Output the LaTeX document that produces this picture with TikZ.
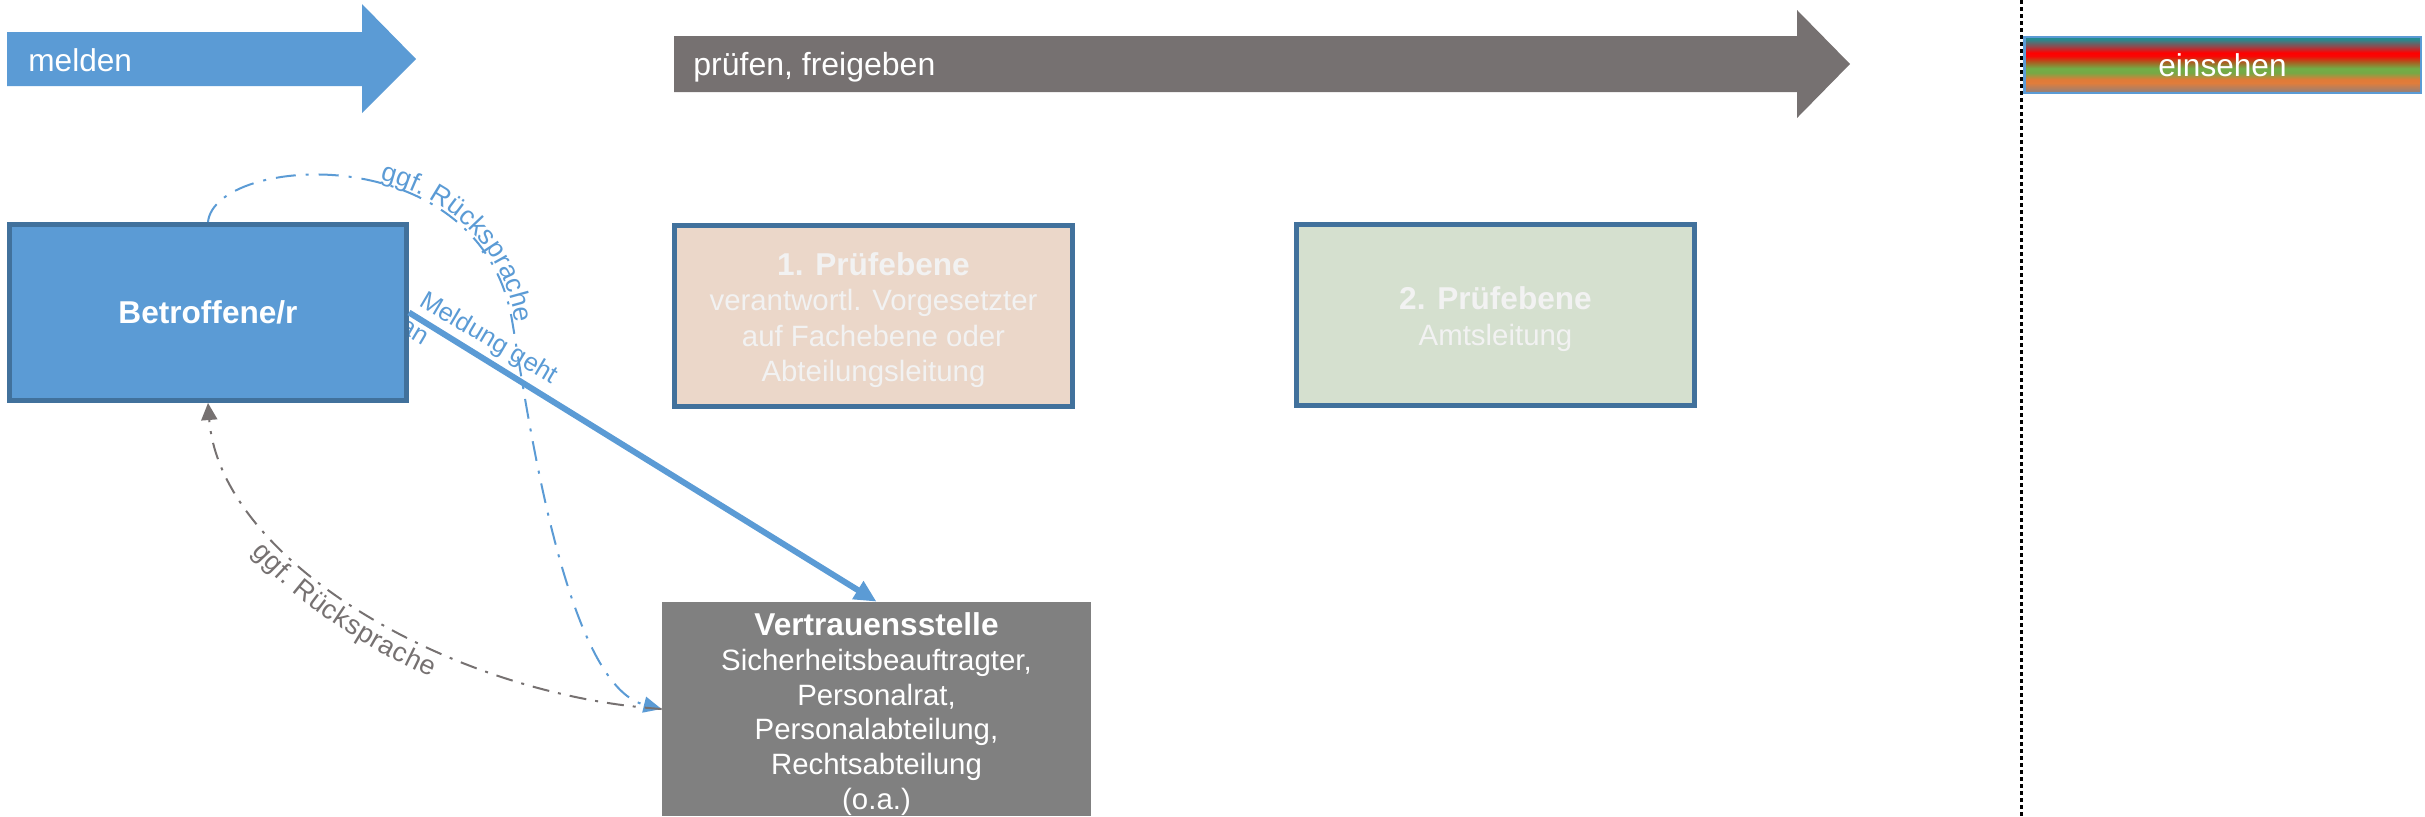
\documentclass[tikz,border=0pt]{standalone}
\usepackage{fontspec}
\setmainfont{Liberation Sans}
\usetikzlibrary{arrows.meta,decorations.text}
\pgfdeclarelayer{background}
\pgfsetlayers{background,main}
\definecolor{mblue}{HTML}{5B9BD5}
\definecolor{dblue}{HTML}{41719C}
\definecolor{agray}{HTML}{767171}
\definecolor{peach}{HTML}{EBD7C9}
\definecolor{sage}{HTML}{D5E0CF}
\definecolor{vgray}{HTML}{808080}
\definecolor{ltxt}{HTML}{F2F2F2}
\newcommand{\bluelblfmt}{\color{mblue}\fontsize{13.3pt}{15pt}\selectfont}
\newcommand{\graylblfmt}{\color{agray}\fontsize{13.5pt}{15pt}\selectfont}
\pgfdeclareverticalshading{eins}{100bp}{rgb(0bp)=(0.62,0.50,0.44); rgb(25bp)=(0.62,0.50,0.44); rgb(27bp)=(0.62,0.50,0.44); rgb(34bp)=(0.88,0.49,0.23); rgb(37bp)=(0.88,0.48,0.22); rgb(43bp)=(0.47,0.66,0.27); rgb(47bp)=(0.44,0.68,0.28); rgb(53bp)=(0.68,0.35,0.12); rgb(58bp)=(0.97,0.03,0.02); rgb(61bp)=(1,0,0); rgb(67bp)=(0.55,0.30,0.32); rgb(73bp)=(0.16,0.54,0.56); rgb(75bp)=(0.13,0.55,0.58); rgb(100bp)=(0.13,0.55,0.58)}
\begin{document}
\begin{tikzpicture}[x=0.5pt,y=-0.5pt,
  bigtxt/.style={font=\fontsize{15.8pt}{19pt}\selectfont, text=white, inner sep=0pt},
  boxtxt/.style={font=\fontsize{14.7pt}{17.8pt}\selectfont, align=center, inner sep=0pt},
  stage/.style={draw=dblue, line width=2.5pt, minimum width=199pt, minimum height=90.5pt, inner sep=0pt},
  lbltxt/.style={font=\fontsize{12.8pt}{15pt}\selectfont, text=mblue, inner sep=0pt},
  bluedash/.style={draw=mblue, line width=1pt, dash pattern=on 10pt off 5pt on 1.5pt off 5pt, -{Triangle[length=9pt,width=8pt]}},
  graydash/.style={draw=agray, line width=1pt, dash pattern=on 8.5pt off 4.5pt on 1.5pt off 4.5pt, -{Triangle[length=8.5pt,width=8pt]}},
  mainarrow/.style={draw=mblue, line width=3pt, -{Triangle[length=11pt,width=10pt]}}
]
\useasboundingbox (0,0) rectangle (2425,816);

% top process arrows
\fill[mblue] (7,32) -- (362,32) -- (362,4) -- (416,59) -- (362,113) -- (362,86) -- (7,86) -- cycle;
\node[bigtxt, anchor=base west] (melden) at (28,71) {melden};
\fill[agray] (674,36) -- (1797,36) -- (1797,10) -- (1850,64) -- (1797,118) -- (1797,92) -- (674,92) -- cycle;
\node[bigtxt, font=\fontsize{16pt}{19pt}\selectfont, anchor=base west] (pruefen) at (693,75) {prüfen, freigeben};

% dotted separator
\coordinate (dtop) at (2021,0);
\coordinate (dbot) at (2021,816);
\draw[black, line width=1.5pt, dash pattern=on 2pt off 1.5pt] (dtop) -- (dbot);

% einsehen
\node[shade, shading=eins, draw=mblue, line width=1.25pt, minimum width=198.25pt, minimum height=28pt, inner sep=0pt, font=\fontsize{15.8pt}{18pt}\selectfont, text=white] (eins) at (2222.5,65) {einsehen};

% boxes
\node[draw=dblue, fill=mblue, line width=2.5pt, minimum width=198.5pt, minimum height=88pt, inner sep=0pt, text=white, font=\fontsize{15.8pt}{19pt}\selectfont\bfseries] (bet) at (208,312.5) {Betroffene/r};
\node[stage, fill=peach] (p1) at (873.5,316) {};
\node[boxtxt, text=ltxt] (p1t) at ([yshift=-2pt]p1.center) {{\bfseries\fontsize{15.8pt}{17.8pt}\selectfont 1. Prüfebene}\\verantwortl. Vorgesetzter\\auf Fachebene oder\\Abteilungsleitung};
\node[stage, fill=sage] (p2) at (1495.5,315) {};
\node[boxtxt, text=ltxt] (p2t) at ([yshift=-2pt]p2.center) {{\bfseries\fontsize{15.8pt}{17.8pt}\selectfont 2. Prüfebene}\\Amtsleitung};
\node[fill=vgray, minimum width=214.5pt, minimum height=107pt, inner sep=0pt] (ver) at (876.5,709) {};
\node[boxtxt, text=white, font=\fontsize{14.7pt}{17.4pt}\selectfont] (vert) at ([yshift=-2.5pt]ver.center) {{\bfseries\fontsize{15.8pt}{17.4pt}\selectfont Vertrauensstelle}\\Sicherheitsbeauftragter,\\Personalrat,\\Personalabteilung,\\Rechtsabteilung\\(o.a.)};

% label of the main connector (partly hidden behind the box)
\begin{pgfonlayer}{background}
\begin{scope}[shift={(bet.east)}, rotate=-30.6, transform shape]
  \node[lbltxt, anchor=base west] (mel1) at (2pt,5.5pt) {Meldung geht};
  \node[lbltxt, anchor=base west] (mel2) at (0pt,-10.5pt) {an};
\end{scope}
\end{pgfonlayer}

% main connector
\draw[mainarrow] (bet.east) -- (ver.north);

% blue dash-dot feedback
\coordinate (bj) at (512,320);
\draw[bluedash] (bet.north) .. controls (215,155) and (480,136) .. (bj) .. controls (527,409) and (565,685) .. (ver.west);
\path[decorate, decoration={text along path, text={|\bluelblfmt|ggf. Rücksprache}, text align={left indent=95pt}, raise=1.5pt}] (bet.north) .. controls (215,155) and (480,136) .. (bj) .. controls (527,409) and (565,685) .. (ver.west);

% gray dash-dot feedback
\draw[graydash] (ver.west) .. controls (450,695) and (220,560) .. (bet.south);
\path[decorate, decoration={text along path, text={|\graylblfmt|ggf. Rücksprache}, text align={left indent=74pt}, raise=-13pt}] (bet.south) .. controls (220,560) and (450,695) .. (ver.west);
\end{tikzpicture}
\end{document}
